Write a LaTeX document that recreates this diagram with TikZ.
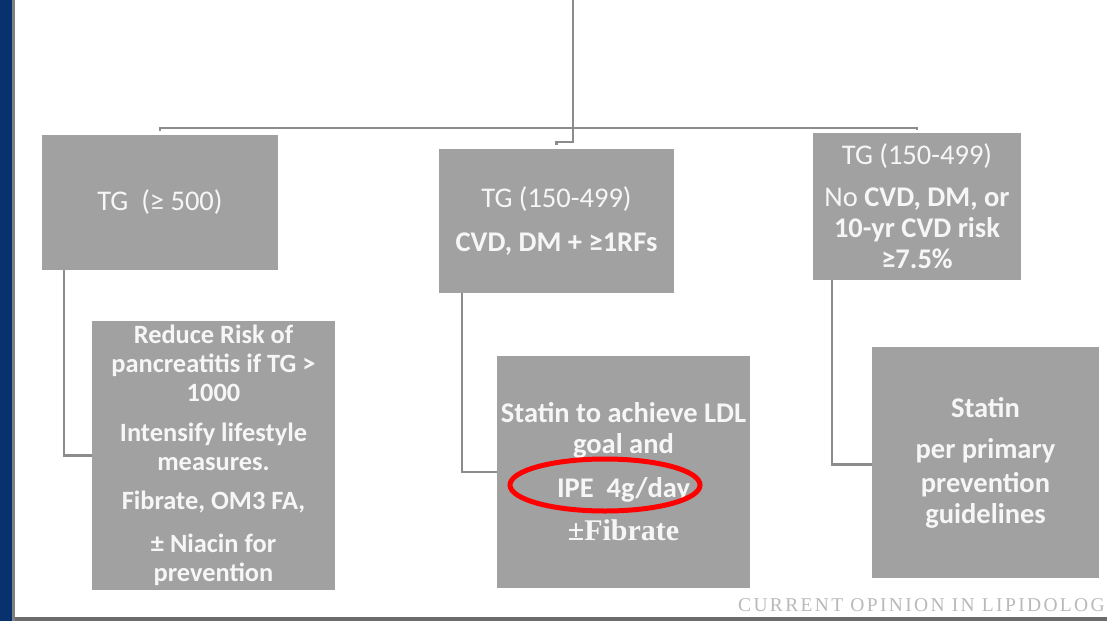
\documentclass[tikz,border=0pt]{standalone}
\usepackage{fontspec}
\setmainfont{Carlito}
\newfontfamily\capfont[LetterSpace=12]{Liberation Serif}
\newfontfamily\timesfont{Liberation Serif}
\usetikzlibrary{shapes.geometric}
\definecolor{boxgray}{RGB}{161,161,161}
\definecolor{linegray}{RGB}{140,140,140}
\definecolor{navy}{RGB}{8,50,110}
\definecolor{txt}{RGB}{246,246,246}
\definecolor{capgray}{RGB}{185,185,185}
\begin{document}
\begin{tikzpicture}[x=1pt,y=-1pt,
  box/.style={fill=boxgray, draw=none, inner sep=0pt, align=center, text=txt},
  conn/.style={draw=linegray, line width=2.2pt},
  fsmall/.style={font=\fontsize{26.4}{29}\selectfont},
  fbig/.style={font=\fontsize{28.5}{31}\selectfont}]
\useasboundingbox (0,0) rectangle (1107,621);
\fill[white] (0,0) rectangle (1107,621);
% frame
\fill[navy] (0,0) rectangle (12,621);
\fill[gray] (12,0) rectangle (15,621);
\fill[gray!85!black] (15,617) rectangle (1107,621);
% boxes
\node[box, fbig, minimum width=236pt, minimum height=135pt] (b1) at (160,202.5)
  {TG\ \ (≥ 500)};
\node[box, fbig, minimum width=235pt, minimum height=144pt] (b2) at (556.5,221)
  {TG (150-499)\\[13pt]
   \textbf{CVD, DM + ≥1RFs}};
\node[box, fbig, minimum width=208pt, minimum height=147pt] (b3) at (917,206.5)
  {TG (150-499)\\[11pt]
   No \textbf{CVD, DM, or}\\
   \textbf{10-yr CVD risk}\\ \textbf{≥7.5\%}};
\node[box, fsmall, minimum width=243pt, minimum height=269pt] (b4) at (213.5,455.5)
  {\textbf{Reduce Risk of}\\ \textbf{pancreatitis if TG >}\\ \textbf{1000}\\[11pt]
   \textbf{Intensify lifestyle}\\ \textbf{measures.}\\[10pt]
   \textbf{Fibrate, OM3 FA,}\\[14pt]
   \textbf{± Niacin for}\\ \textbf{prevention}};
\node[box, fbig, minimum width=253pt, minimum height=232pt] (b5) at (623.5,472)
  {\textbf{Statin to achieve LDL}\\ \textbf{goal and}\\[13pt]
   \textbf{IPE\ \ 4g/day}\\[12pt]
   {\timesfont\bfseries\fontsize{30}{31}\selectfont ±Fibrate}};
\node[box, fbig, minimum width=227pt, minimum height=231pt] (b6) at (985.5,462.5)
  {\textbf{Statin}\\[10pt] \textbf{per primary}\\[3pt] \textbf{prevention}\\ \textbf{guidelines}};
% highlight
\node[ellipse, draw=red, line width=5pt, minimum width=190pt, minimum height=52pt, inner sep=0pt] (hl) at (605,485) {};
% tree connectors
\coordinate (top) at (573,0);
\draw[conn] ([yshift=4pt]b1.north) -- ([yshift=7pt]b1.north) -- ([yshift=7pt]b1.north -| b3.north) -- ([yshift=3pt]b3.north);
\draw[conn] (top) |- ([yshift=7pt]b2.north) -- ([yshift=4pt]b2.north);
\draw[conn] ([xshift=22pt]b1.south west) |- (b4.west);
\draw[conn] ([xshift=23pt]b2.south west) |- (b5.west);
\draw[conn] ([xshift=19pt]b3.south west) |- ([yshift=-2pt]b6.west);
% caption
\node[anchor=west, text=capgray, font=\capfont\fontsize{19.5}{19.5}\selectfont, inner sep=0pt] (cap) at (738,605) {CURRENT OPINION IN LIPIDOLOG};
\end{tikzpicture}
\end{document}
